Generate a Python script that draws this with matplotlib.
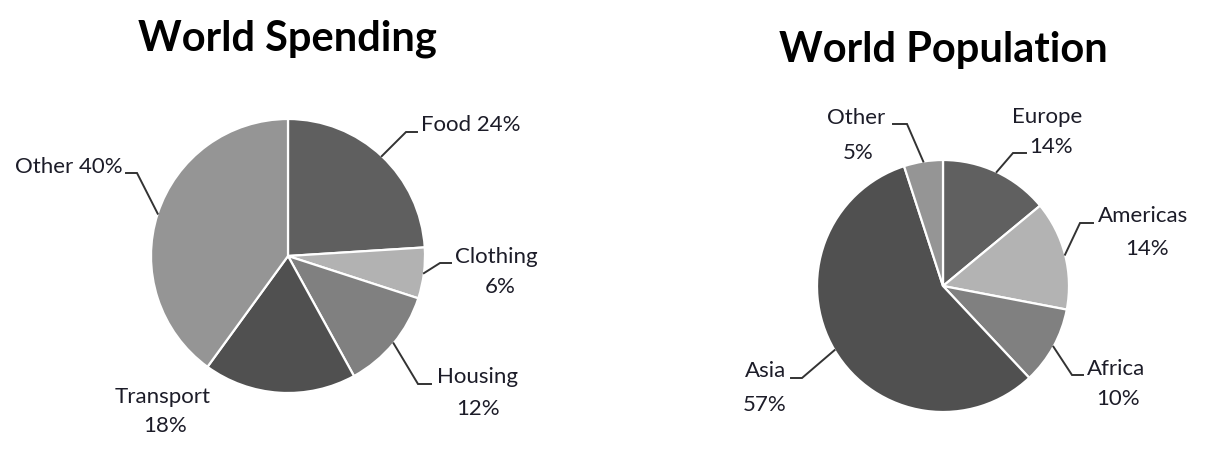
import numpy as np
import matplotlib
matplotlib.use("Agg")
import matplotlib.pyplot as plt

plt.rcParams['font.family'] = ['Lato', 'DejaVu Sans']

# World Spending
spend_labels = ['Food', 'Clothing', 'Housing', 'Transport', 'Other']
spend_values = [24, 6, 12, 18, 40]
spend_colors = ['#5f5f5f', '#b2b2b2', '#808080', '#505050', '#959595']

# World Population
pop_labels = ['Europe', 'Americas', 'Africa', 'Asia', 'Other']
pop_values = [14, 14, 10, 57, 5]
pop_colors = ['#606060', '#b3b3b3', '#808080', '#505050', '#959595']

W, H = 1218, 473
TXT = '#1c1c28'
LINE = '#333333'
FS = 16

# layout (pixel coords): text left x, name baseline, pct centre x, pct baseline (None = one line),
# elbow point, end x of horizontal leader (None = no leader)
spend_layout = {
    'Food': dict(tx=421, ty=131, px=None, py=None, elbow=(406, 132), end=417),
    'Clothing': dict(tx=455, ty=263, px=500, py=293, elbow=(440, 263), end=451),
    'Housing': dict(tx=437, ty=383, px=478, py=415, elbow=(418, 384), end=431),
    'Transport': dict(tx=115, ty=403, px=165, py=432, elbow=None, end=None),
    'Other': dict(tx=15, ty=173, px=None, py=None, elbow=(137, 173), end=126),
}
pop_layout = {
    'Europe': dict(tx=1012, ty=123, px=1051, py=153, elbow=(1013, 153), end=1026),
    'Americas': dict(tx=1098, ty=222, px=1147, py=255, elbow=(1080, 223), end=1093),
    'Africa': dict(tx=1087, ty=375, px=1118, py=405, elbow=(1072, 375), end=1083),
    'Asia': dict(tx=745, ty=377, px=765, py=411, elbow=(802, 378), end=791),
    'Other': dict(tx=827, ty=124, px=858, py=159, elbow=(907, 124), end=893),
}

fig = plt.figure(figsize=(W / 100, H / 100), dpi=100)
ax = fig.add_axes([0, 0, 1, 1])


def draw_pie(values, labels, colors, center, radius, layout):
    # y axis is inverted, so counterclock in data = clockwise on screen
    wedges, _ = ax.pie(values, colors=colors, startangle=-90, counterclock=True,
                       center=center, radius=radius,
                       wedgeprops=dict(edgecolor='white', linewidth=1.6))
    for w, lab, v in zip(wedges, labels, values):
        lay = layout[lab]
        mid = np.deg2rad((w.theta1 + w.theta2) / 2)
        sx = center[0] + radius * np.cos(mid)
        sy = center[1] + radius * np.sin(mid)
        if lay['elbow'] is not None:
            ex, ey = lay['elbow']
            ax.plot([sx, ex, lay['end']], [sy, ey, ey], color=LINE, lw=1.4,
                    solid_joinstyle='miter')
        if lay['px'] is None:
            ax.text(lay['tx'], lay['ty'], f'{lab} {v}%', ha='left', va='baseline',
                    fontsize=FS, color=TXT)
        else:
            ax.text(lay['tx'], lay['ty'], lab, ha='left', va='baseline',
                    fontsize=FS, color=TXT)
            ax.text(lay['px'], lay['py'], f'{v}%', ha='center', va='baseline',
                    fontsize=FS, color=TXT)


draw_pie(spend_values, spend_labels, spend_colors, (288, 256), 137, spend_layout)
draw_pie(pop_values, pop_labels, pop_colors, (943, 286), 126, pop_layout)

ax.text(287, 50, 'World Spending', ha='center', va='baseline', fontsize=30,
        fontweight='bold', color='black')
ax.text(943, 62, 'World Population', ha='center', va='baseline', fontsize=30,
        fontweight='bold', color='black')

ax.set_xlim(0, W)
ax.set_ylim(H, 0)
ax.set_aspect('equal')
ax.axis('off')

fig.savefig('out.png', dpi=100)
